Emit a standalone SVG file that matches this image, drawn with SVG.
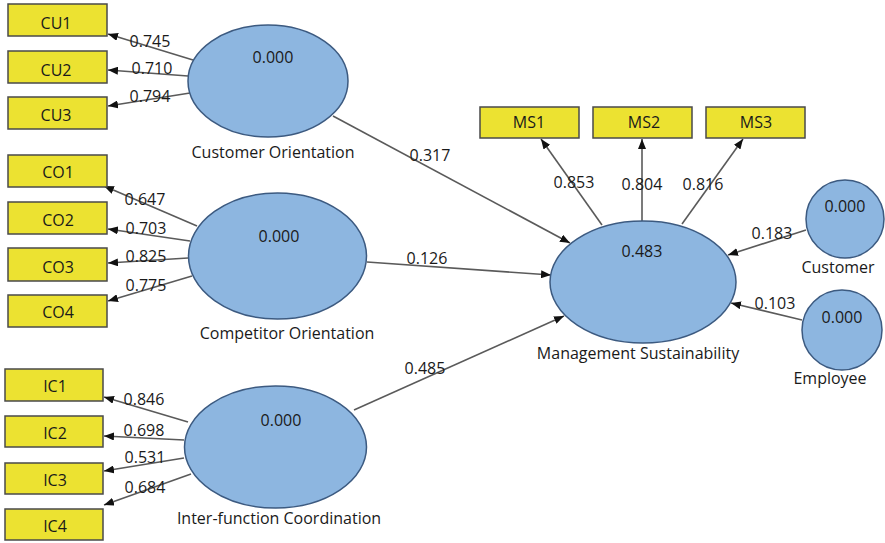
<svg xmlns="http://www.w3.org/2000/svg" width="885" height="543" viewBox="0 0 885 543">
<defs>
<marker id="ah" markerWidth="10" markerHeight="8" refX="10" refY="4" orient="auto" markerUnits="userSpaceOnUse">
<path d="M0,0 L10,4 L0,8 Z" fill="#111"/>
</marker>
<style>
.box{fill:#ece231;stroke:#4a4a4a;stroke-width:1.5}
.lv{fill:#8db6e0;stroke:#3c5a80;stroke-width:1.5}
.ln{stroke:#5a5a5a;stroke-width:1.6;fill:none;marker-end:url(#ah)}
text{font-family:"Open Sans","DejaVu Sans",sans-serif;fill:#1a1a1a}
.t{font-size:16px}
.b{font-size:16px;text-anchor:middle}
.c{text-anchor:middle}
</style>
</defs>
<rect width="885" height="543" fill="#ffffff"/>
<g id="connectors">
<line class="ln" x1="193" y1="60" x2="108" y2="34"/>
<line class="ln" x1="188" y1="76" x2="108" y2="70"/>
<line class="ln" x1="190" y1="93" x2="108" y2="106"/>
<line class="ln" x1="197" y1="226" x2="104" y2="186"/>
<line class="ln" x1="190" y1="241" x2="108" y2="229"/>
<line class="ln" x1="188" y1="258" x2="108" y2="263"/>
<line class="ln" x1="192" y1="276" x2="108" y2="301"/>
<line class="ln" x1="188" y1="422" x2="104" y2="397"/>
<line class="ln" x1="184" y1="440" x2="104" y2="436"/>
<line class="ln" x1="184" y1="458" x2="104" y2="471"/>
<line class="ln" x1="191" y1="474" x2="104" y2="505"/>
<line class="ln" x1="333" y1="116" x2="570" y2="243"/>
<line class="ln" x1="367" y1="262" x2="551" y2="275"/>
<line class="ln" x1="354" y1="410" x2="564" y2="316"/>
<line class="ln" x1="602" y1="225" x2="541" y2="139"/>
<line class="ln" x1="642" y1="221" x2="642" y2="139"/>
<line class="ln" x1="682" y1="224" x2="743" y2="139"/>
<line class="ln" x1="806" y1="230" x2="728" y2="255"/>
<line class="ln" x1="802" y1="320" x2="731" y2="303"/>
<text class="t" x="150" y="47" text-anchor="middle">0.745</text>
<text class="t" x="152" y="74" text-anchor="middle">0.710</text>
<text class="t" x="150" y="102" text-anchor="middle">0.794</text>
<text class="t" x="145" y="205" text-anchor="middle">0.647</text>
<text class="t" x="146" y="234" text-anchor="middle">0.703</text>
<text class="t" x="146" y="262" text-anchor="middle">0.825</text>
<text class="t" x="146" y="291" text-anchor="middle">0.775</text>
<text class="t" x="144" y="405" text-anchor="middle">0.846</text>
<text class="t" x="144" y="436" text-anchor="middle">0.698</text>
<text class="t" x="145" y="463" text-anchor="middle">0.531</text>
<text class="t" x="145" y="493" text-anchor="middle">0.684</text>
<text class="t" x="430" y="161" text-anchor="middle">0.317</text>
<text class="t" x="427" y="264" text-anchor="middle">0.126</text>
<text class="t" x="425" y="374" text-anchor="middle">0.485</text>
<text class="t" x="574" y="188" text-anchor="middle">0.853</text>
<text class="t" x="642" y="190" text-anchor="middle">0.804</text>
<text class="t" x="703" y="190" text-anchor="middle">0.816</text>
<text class="t" x="772" y="239" text-anchor="middle">0.183</text>
<text class="t" x="775" y="309" text-anchor="middle">0.103</text>
</g>
<g id="CU1"><rect class="box" x="8" y="4" width="99" height="32"/><text class="b" x="56" y="29">CU1</text></g>
<g id="CU2"><rect class="box" x="8" y="51" width="99" height="32"/><text class="b" x="56" y="76">CU2</text></g>
<g id="CU3"><rect class="box" x="8" y="97" width="99" height="32"/><text class="b" x="56" y="121">CU3</text></g>
<g id="CO1"><rect class="box" x="8" y="155" width="99" height="32"/><text class="b" x="58" y="178">CO1</text></g>
<g id="CO2"><rect class="box" x="8" y="202" width="99" height="32"/><text class="b" x="58" y="226">CO2</text></g>
<g id="CO3"><rect class="box" x="8" y="248" width="99" height="33"/><text class="b" x="58" y="273">CO3</text></g>
<g id="CO4"><rect class="box" x="8" y="295" width="99" height="32"/><text class="b" x="58" y="318">CO4</text></g>
<g id="IC1"><rect class="box" x="5" y="369" width="98" height="32"/><text class="b" x="55" y="392">IC1</text></g>
<g id="IC2"><rect class="box" x="5" y="416" width="98" height="31"/><text class="b" x="55" y="439">IC2</text></g>
<g id="IC3"><rect class="box" x="5" y="463" width="98" height="31"/><text class="b" x="55" y="486">IC3</text></g>
<g id="IC4"><rect class="box" x="5" y="509" width="98" height="31"/><text class="b" x="55" y="532">IC4</text></g>
<g id="MS1"><rect class="box" x="480" y="107" width="99" height="31"/><text class="b" x="529" y="128">MS1</text></g>
<g id="MS2"><rect class="box" x="593" y="107" width="99" height="31"/><text class="b" x="644" y="128">MS2</text></g>
<g id="MS3"><rect class="box" x="706" y="107" width="99" height="31"/><text class="b" x="756" y="128">MS3</text></g>
<g id="CustomerOrientation"><ellipse class="lv" cx="268" cy="81" rx="80" ry="56"/><text class="t c" x="273" y="63">0.000</text><text class="t c" x="273" y="158">Customer Orientation</text></g>
<g id="CompetitorOrientation"><ellipse class="lv" cx="277.5" cy="256" rx="89" ry="63"/><text class="t c" x="279" y="242">0.000</text><text class="t c" x="287" y="339">Competitor Orientation</text></g>
<g id="InterfunctionCoordination"><ellipse class="lv" cx="275.5" cy="447" rx="91" ry="61"/><text class="t c" x="281" y="426">0.000</text><text class="t c" x="279" y="524">Inter-function Coordination</text></g>
<g id="ManagementSustainability"><ellipse class="lv" cx="643" cy="282" rx="93" ry="61"/><text class="t c" x="642" y="257">0.483</text><text class="t c" x="638" y="359">Management Sustainability</text></g>
<g id="Customer"><circle class="lv" cx="845" cy="219" r="39"/><text class="t c" x="845" y="212">0.000</text><text class="t c" x="838" y="273">Customer</text></g>
<g id="Employee"><circle class="lv" cx="842" cy="330" r="40"/><text class="t c" x="842" y="323">0.000</text><text class="t c" x="830" y="384">Employee</text></g>
</svg>
